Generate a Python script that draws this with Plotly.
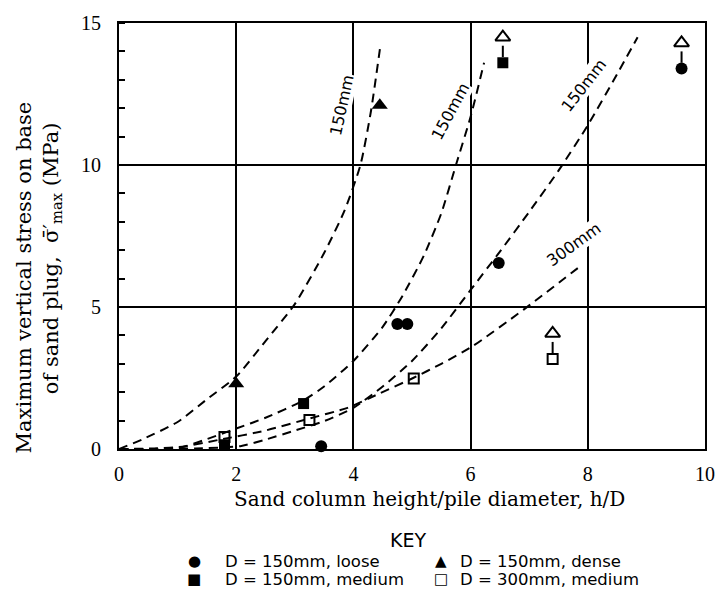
import plotly.graph_objects as go

# ---------------- data ----------------
loose_x = [3.45, 4.75, 4.92, 6.48, 9.6]
loose_y = [0.1, 4.4, 4.4, 6.55, 13.4]

medium_x = [1.8, 3.15, 6.55]
medium_y = [0.15, 1.6, 13.6]

dense_x = [2.0, 4.45]
dense_y = [2.3, 12.1]

d300_x = [1.8, 3.25, 5.03, 7.4]
d300_y = [0.42, 1.02, 2.48, 3.17]

# points that are lower bounds (arrow upward)
lb_x = [6.55, 9.6, 7.4]
lb_y = [13.6, 13.4, 3.17]

# fitted dashed curves
dense_cx = [0, 0.4, 1.0, 1.5, 2.0, 2.5, 3.0, 3.5, 3.85, 4.12, 4.3, 4.46]
dense_cy = [0, 0.34, 0.95, 1.75, 2.55, 3.8, 5.1, 6.9, 8.4, 10.0, 11.9, 14.2]

medium_cx = [0, 0.6, 1.13, 1.5, 2.0, 2.5, 3.14, 3.5, 4.0, 4.5, 4.84, 5.2, 5.5, 5.75, 6.0, 6.23]
medium_cy = [0, 0.02, 0.1, 0.35, 0.72, 1.1, 1.7, 2.2, 3.1, 4.3, 5.4, 6.8, 8.3, 10.0, 11.7, 13.6]

loose_cx = [0, 0.8, 1.3, 2.07, 2.5, 3.0, 3.5, 4.0, 4.5, 5.0, 5.5, 6.0, 6.5, 7.0, 7.5, 8.0, 8.5, 8.85]
loose_cy = [0, 0.0, 0.02, 0.1, 0.33, 0.65, 0.98, 1.45, 2.2, 3.1, 4.25, 5.6, 6.95, 8.35, 9.8, 11.4, 13.2, 14.5]

d300_cx = [0, 0.6, 1.0, 1.7, 2.5, 3.24, 3.9, 4.44, 5.02, 5.5, 6.02, 6.9, 7.88]
d300_cy = [0, 0.0, 0.05, 0.32, 0.65, 1.07, 1.45, 1.95, 2.5, 3.0, 3.6, 4.9, 6.45]

x_ticks = [0, 2, 4, 6, 8, 10]
y_ticks = [0, 5, 10, 15]

curve_labels = ["150mm", "150mm", "150mm", "300mm"]
curve_label_x = [3.8, 5.65, 7.93, 7.76]
curve_label_y = [12.1, 11.9, 12.8, 7.2]
curve_label_angle = [-78, -62, -52, -36]

key_labels = ["D = 150mm, loose", "D = 150mm, dense", "D = 150mm, medium", "D = 300mm, medium"]
key_glyphs = ["●", "▲", "■", "□"]

# ---------------- figure ----------------
fig = go.Figure()
dash = dict(color="black", width=2, dash="9px,6px", shape="spline", smoothing=0.6)
for cx, cy in [(dense_cx, dense_cy), (medium_cx, medium_cy), (loose_cx, loose_cy), (d300_cx, d300_cy)]:
    fig.add_trace(go.Scatter(x=cx, y=cy, mode="lines", line=dash, hoverinfo="skip", showlegend=False))

# arrow stems and heads for lower-bound points
stem_x, stem_y = [], []
for x, y in zip(lb_x, lb_y):
    stem_x += [x, x, None]
    stem_y += [y + 0.2, y + 0.6, None]
fig.add_trace(go.Scatter(x=stem_x, y=stem_y, mode="lines", line=dict(color="black", width=2),
                         showlegend=False, hoverinfo="skip", cliponaxis=False))
fig.add_trace(go.Scatter(x=lb_x, y=[y + 0.9 for y in lb_y], mode="markers",
                         marker=dict(symbol="triangle-up-open", size=13, color="black", line=dict(width=2)),
                         showlegend=False, hoverinfo="skip", cliponaxis=False))

fig.add_trace(go.Scatter(x=loose_x, y=loose_y, mode="markers", name="D = 150mm, loose",
                         marker=dict(symbol="circle", size=12, color="black"), cliponaxis=False))
fig.add_trace(go.Scatter(x=medium_x, y=medium_y, mode="markers", name="D = 150mm, medium",
                         marker=dict(symbol="square", size=11, color="black"), cliponaxis=False))
fig.add_trace(go.Scatter(x=dense_x, y=dense_y, mode="markers", name="D = 150mm, dense",
                         marker=dict(symbol="triangle-up", size=14, color="black"), cliponaxis=False))
fig.add_trace(go.Scatter(x=d300_x, y=d300_y, mode="markers", name="D = 300mm, medium",
                         marker=dict(symbol="square-open", size=10, color="black", line=dict(width=2)),
                         cliponaxis=False))

serif = "Liberation Serif"
wserif = "DejaVu Serif"
sans = "DejaVu Sans"

fig.update_xaxes(range=[0, 10], tickvals=x_ticks, ticktext=[str(t) for t in x_ticks],
                 showgrid=True, gridcolor="black", gridwidth=1.5, zeroline=False,
                 showline=True, linecolor="black", linewidth=2, mirror=True, ticks="",
                 ticklabelstandoff=6, tickfont=dict(family=serif, size=20, color="black"))
fig.update_yaxes(range=[0, 15], tickvals=y_ticks, ticktext=[str(t) for t in y_ticks],
                 showgrid=True, gridcolor="black", gridwidth=1.5, zeroline=False,
                 showline=True, linecolor="black", linewidth=2, mirror=True, ticks="",
                 minor=dict(dtick=1, ticks="inside", ticklen=6, tickwidth=1.5, tickcolor="black", showgrid=False),
                 ticklabelstandoff=12, tickfont=dict(family=serif, size=20, color="black"))

ann = []
for t, x, y, a in zip(curve_labels, curve_label_x, curve_label_y, curve_label_angle):
    ann.append(dict(x=x, y=y, xref="x", yref="y", text=t, showarrow=False, textangle=a,
                    font=dict(family=sans, size=16, color="black"), bgcolor="white", borderpad=0))

# axis titles
ann.append(dict(x=0.53, y=-0.118, xref="paper", yref="paper", text="Sand column height/pile diameter, h/D",
                showarrow=False, font=dict(family=wserif, size=20, color="black"), xanchor="center", yanchor="middle"))
ann.append(dict(x=-0.162, y=0.403, xref="paper", yref="paper", text="Maximum vertical stress on base",
                showarrow=False, textangle=-90, font=dict(family=wserif, size=21, color="black"),
                xanchor="center", yanchor="middle"))
ann.append(dict(x=-0.115, y=0.447, xref="paper", yref="paper",
                text="of sand plug,  σ\u0304\u2032<sub>max</sub> (MPa)",
                showarrow=False, textangle=-90, font=dict(family=wserif, size=21, color="black"),
                xanchor="center", yanchor="middle"))

# key
ann.append(dict(x=0.494, y=-0.214, xref="paper", yref="paper", text="KEY", showarrow=False,
                font=dict(family=sans, size=19, color="black"), xanchor="center", yanchor="middle"))
key_gx = [0.128, 0.550, 0.128, 0.550]
key_tx = [0.178, 0.578, 0.178, 0.578]
key_y = [-0.263, -0.263, -0.306, -0.306]
for g, t, gx, tx, ky in zip(key_glyphs, key_labels, key_gx, key_tx, key_y):
    ann.append(dict(x=gx, y=ky, xref="paper", yref="paper", text=g, showarrow=False,
                    font=dict(family=sans, size=15, color="black"), xanchor="center", yanchor="middle"))
    ann.append(dict(x=tx, y=ky, xref="paper", yref="paper", text=t, showarrow=False,
                    font=dict(family=sans, size=16.5, color="black"), xanchor="left", yanchor="middle"))

fig.update_layout(width=727, height=598, margin=dict(l=119, r=13, t=15, b=149),
                  paper_bgcolor="white", plot_bgcolor="white", showlegend=False,
                  annotations=ann)

fig.write_html("out.html")
